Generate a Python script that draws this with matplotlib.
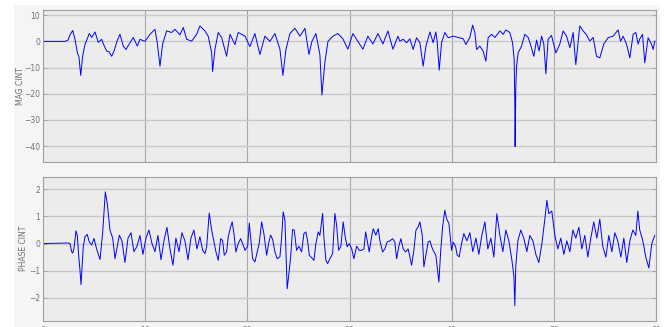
import matplotlib.pyplot as plt
from matplotlib.patches import Rectangle

# magnitude channel
t_mag = [0, 2.15, 2.45, 2.64, 2.91, 3.13, 3.36, 3.52, 3.69, 3.88, 4.11, 4.53, 4.77,
         5.09, 5.41, 5.74, 5.97, 6.23, 6.46, 6.72, 6.95, 7.24, 7.53, 7.86, 8.12, 8.44,
         8.84, 9.23, 9.49, 9.98, 10.47, 10.96, 11.18, 11.45, 11.71, 12.10, 12.59, 12.92,
         13.41, 13.73, 14.06, 14.55, 15.04, 15.36, 15.85, 16.17, 16.51, 16.60, 16.83,
         17.15, 17.49, 17.97, 18.30, 18.79, 19.11, 19.77, 20.25, 20.74, 21.23, 21.72,
         22.21, 22.70, 23.19, 23.48, 23.78, 24.17, 24.66, 25.15, 25.64, 26.03, 26.32,
         26.71, 27.10, 27.30, 27.59, 27.89, 28.38, 28.86, 29.35, 29.84, 30.33, 30.82,
         31.31, 31.80, 32.29, 32.78, 33.27, 33.76, 34.25, 34.74, 34.93, 35.26, 35.59,
         35.91, 36.23, 36.56, 36.89, 37.21, 37.48, 37.87, 38.19, 38.45, 38.58, 38.78,
         39.01, 39.33, 39.66, 40.15, 40.64, 41.13, 41.39, 41.78, 42.05, 42.27, 42.44,
         42.76, 43.08, 43.35, 43.57, 43.90, 44.23, 44.72, 45.04, 45.30, 45.69, 45.96,
         46.12, 46.18, 46.21, 46.28, 46.35, 46.51, 46.84, 47.16, 47.49, 47.72, 48.04,
         48.31, 48.56, 48.80, 49.02, 49.22, 49.44, 49.77, 50.20, 50.59, 50.91, 51.24,
         51.57, 51.89, 52.15, 52.54, 52.87, 53.20, 53.52, 53.85, 54.18, 54.50, 54.89,
         55.31, 55.80, 56.29, 56.53, 56.78, 57.11, 57.44, 57.76, 58.02, 58.25, 58.42,
         58.68, 58.90, 59.23, 59.56, 59.72, 59.88]
mag = [0, 0, 0.5, 2.5, 4.2, 0.8, -4.3, -6, -13, -5.7, -1.2, 3, 1.5,
       3.6, -0.4, 0.8, -1.5, -3.7, -4, -5.7, -3.7, 0, 2.7, -1.8, -3.1, -1,
       1.5, -1.8, 0.8, 0, 2.7, 4.6, -0.5, -9.5, -1, 4, 3.4, 4.6,
       2.5, 5.3, 0.8, 0.1, 2.7, 5.9, 4, 2, -4.4, -11.5, -3.1,
       3.4, 1.4, -5.7, 2.7, -1.2, 3.4, 2, -2, 3, -5, 2,
       0, 3, -3, -13, -3, 3, 5, 2, 5, -5, 0,
       3, -5, -20.5, -8, 0, 2, 3, 1, -3, 3, 0,
       -3, 2, -1, 3, -1, 4, -3, 2, 0.1, 0.8, -0.5,
       1, -3.1, 1.4, -0.5, -9.5, -1.8, 3.6, -0.5, 3.6, 0, -11,
       -0.5, 3.4, 1.4, 2, 1.5, 1, -1.2, 1.5, 6.2, 3.4, -3.1,
       -1.8, -3.7, -7.6, 1.4, 2.7, 1.5, 4, 2.7, 4.4, 3.4, -0.5,
       -6.9, -23.7, -40.2, -17.3, -9.5, -4.4, -1.8, 2.7, 1.5, -1.2, -5.7,
       0.5, -3.7, 2, -1, -12.4, 0.8, 2.3, -4.4, -1, 4, 2,
       -2.4, 3.4, -8.9, 5.9, 4, 2.5, 0.1, 1.5, -5.7, -6.3, -1,
       1.4, 2, 4.4, 0, 2, -1, -6.3, 2.7, 3.4, -1, 1,
       2.7, -8.2, 1.4, -1, -3.1, 0.1]

# phase channel
t_ph = [0, 2.48, 2.64, 2.81, 2.91, 3.03, 3.23, 3.36, 3.49, 3.62, 3.72, 3.82, 3.94,
        4.11, 4.33, 4.53, 4.77, 4.99, 5.25, 5.58, 5.84, 6.10, 6.29, 6.56, 6.82, 7.05,
        7.27, 7.47, 7.73, 8.02, 8.32, 8.61, 8.90, 9.20, 9.49, 9.78, 10.08, 10.37,
        10.67, 10.96, 11.25, 11.55, 11.84, 12.13, 12.43, 12.72, 13.01, 13.31, 13.60,
        13.89, 14.19, 14.48, 14.77, 15.07, 15.36, 15.63, 15.85, 16.02, 16.27, 16.51,
        16.73, 16.93, 17.15, 17.39, 17.58, 17.74, 17.97, 18.13, 18.37, 18.52, 18.69,
        18.88, 19.11, 19.34, 19.54, 19.77, 20.03, 20.19, 20.32, 20.52, 20.74, 20.97,
        21.16, 21.40, 21.62, 21.89, 22.11, 22.28, 22.48, 22.70, 22.93, 23.19, 23.36,
        23.51, 23.68, 23.78, 23.90, 24.07, 24.24, 24.43, 24.59, 24.82, 25.05, 25.31,
        25.54, 25.73, 25.90, 26.06, 26.29, 26.52, 26.71, 26.94, 27.10, 27.37, 27.50,
        27.69, 27.86, 28.08, 28.35, 28.57, 28.74, 28.93, 29.16, 29.38, 29.58, 29.77,
        29.97, 30.21, 30.43, 30.70, 30.95, 31.19, 31.41, 31.58, 31.73, 31.93, 32.16,
        32.32, 32.58, 32.81, 32.97, 33.24, 33.46, 33.69, 33.95, 34.22, 34.44, 34.61,
        34.83, 35.03, 35.25, 35.49, 35.74, 35.91, 36.08, 36.30, 36.50, 36.72, 36.89,
        37.12, 37.28, 37.45, 37.70, 37.87, 38.03, 38.19, 38.45, 38.58, 38.75, 38.91,
        39.11, 39.33, 39.50, 39.73, 39.99, 40.15, 40.38, 40.54, 40.73, 40.97, 41.19,
        41.49, 41.78, 42.07, 42.37, 42.66, 42.95, 43.25, 43.54, 43.84, 44.13, 44.42,
        44.72, 45.01, 45.30, 45.60, 45.89, 46.09, 46.18, 46.28, 46.48, 46.77, 47.06,
        47.36, 47.65, 47.95, 48.24, 48.53, 48.83, 49.12, 49.32, 49.51, 49.80, 50.10,
        50.39, 50.68, 50.98, 51.27, 51.57, 51.86, 52.15, 52.45, 52.74, 53.03, 53.33,
        53.62, 53.91, 54.21, 54.50, 54.79, 55.09, 55.38, 55.68, 55.97, 56.26, 56.56,
        56.85, 57.14, 57.44, 57.73, 58.02, 58.22, 58.41, 58.71, 59.00, 59.30, 59.59,
        59.88]
phase = [0, 0.02, 0, -0.31, -0.35, -0.19, 0.47, 0.3, -0.43, -0.99, -1.52, -0.9, -0.12,
         0.25, 0.34, 0.06, -0.05, 0.19, -0.2, -0.59, 0.4, 1.91, 1.48, 0.49, 0.2, -0.56,
         -0.1, 0.31, 0.1, -0.7, 0.2, 0.4, -0.3, -0.1, 0.3, -0.4, 0.2, 0.5,
         0, -0.3, 0.3, -0.6, 0.1, 0.6, -0.2, -0.8, 0.2, -0.3, 0.4,
         0.1, -0.6, 0.2, 0.5, -0.2, 0.25, -0.25, -0.37, -0.12, 1.13, 0.49,
         0.06, -0.31, -0.62, 0.18, 0.12, -0.43, -0.31, 0.25, 0.62, 0.8, 0.37,
         -0.31, 0, 0.18, 0, -0.25, -0.1, 0.76, 0.25, -0.56, -0.68, -0.31,
         0, 0.8, 0.37, -0.43, 0.06, 0.31, 0.15, -0.31, -0.56, -0.49, 0.25,
         1.17, 0.86, -0.25, -1.67, -1.11, -0.49, 0.52, 0.5, -0.25, -0.1, -0.31,
         0.37, 0.43, 0.1, -0.43, -0.52, -0.62, 0, 0.43, 0.3, 1.11, 0.2,
         -0.62, -0.74, -0.56, -0.37, 1.11, 0.68, -0.25, -0.1, 0.8, 0.25, -0.12,
         0, -0.19, -0.56, -0.1, -0.25, -0.25, -0.2, 0.43, 0.12, -0.31, 0.25,
         0.55, 0.31, 0.55, 0.12, -0.31, -0.2, 0.06, 0.1, 0.18, 0.05, -0.56,
         -0.1, 0.18, -0.19, -0.31, -0.2, -0.49, -0.8, -0.25, 0.49, 0.62, 0.8,
         0.3, -0.86, -0.49, 0.06, 0.1, -0.1, -0.25, -0.43, -0.86, -1.42, -0.37,
         0.62, 1.23, 0.92, 0.74, -0.25, 0.05, -0.1, -0.43, -0.49, 0, 0.37,
         0.1, 0.4, -0.3, 0.2, -0.4, 0.3, 0.8, -0.2, 0.2, -0.5, 1.1,
         0.3, -0.3, 0.5, 0.1, -0.6, -1.2, -2.3, -0.8, 0.1, 0.5, 0.2,
         -0.3, 0.3, 0.1, -0.4, -0.7, 0, 0.9, 1.6, 1.1, 1.2, 0.3,
         -0.2, 0.2, -0.4, 0.1, -0.3, 0.5, 0.2, 0.6, -0.2, 0.3, -0.5,
         0.2, 0.8, 0.2, 0.9, -0.1, -0.5, 0.3, -0.3, 0.4, 0.1, -0.5,
         0.2, -0.7, 0.1, 0.5, 0.3, 1.2, 0.5, 0.1, -0.5, -0.9, 0,
         0.3]

x_ticks = [0, 10, 20, 30, 40, 50, 60]
x_labels = ['0', '10', '20', '30', '40', '50', '60']

fig = plt.figure(figsize=(6.64, 3.27), dpi=100)
fig.patch.set_facecolor('white')
# light grey panel behind both axes
fig.patches.append(Rectangle((14 / 664, 0), 646 / 664, 322 / 327,
                             transform=fig.transFigure, facecolor='#f5f5f5',
                             edgecolor='none', zorder=-10))

ax1 = fig.add_axes([43 / 664, 165.3 / 327, 613 / 664, 151.7 / 327])
ax2 = fig.add_axes([43 / 664, 6.3 / 327, 613 / 664, 144 / 327])


def style(ax, ylim, yticks, ylabel, label_x):
    ax.set_facecolor('#ececec')
    ax.set_xlim(0, 60)
    ax.set_ylim(*ylim)
    ax.set_xticks(x_ticks)
    ax.set_yticks(yticks)
    ax.grid(axis='y', color='#c9c9c9', linewidth=1.0)
    ax.grid(axis='x', color='#a9a9a9', linewidth=0.8)
    ax.set_axisbelow(True)
    for s in ax.spines.values():
        s.set_color('#a0a0a0')
        s.set_linewidth(0.8)
    ax.tick_params(direction='in', length=3, width=0.6, colors='#a0a0a0',
                   labelcolor='#707070', labelsize=5.5, top=True, right=True, pad=2)
    ax.set_ylabel(ylabel, fontsize=5.5, color='#707070')
    ax.yaxis.set_label_coords(label_x, 0.5)


style(ax1, (-46, 12), [-40, -30, -20, -10, 0, 10], 'MAG CINT', -0.030)
ax1.set_xticklabels([])
ax1.plot(t_mag, mag, color='#0000ff', linewidth=0.7)

style(ax2, (-2.85, 2.47), [-2, -1, 0, 1, 2], 'PHASE CINT', -0.025)
ax2.set_xticklabels(x_labels)
ax2.tick_params(axis='x', pad=4)
ax2.plot(t_ph, phase, color='#0000ff', linewidth=0.7)

fig.savefig('out.png', dpi=100)
